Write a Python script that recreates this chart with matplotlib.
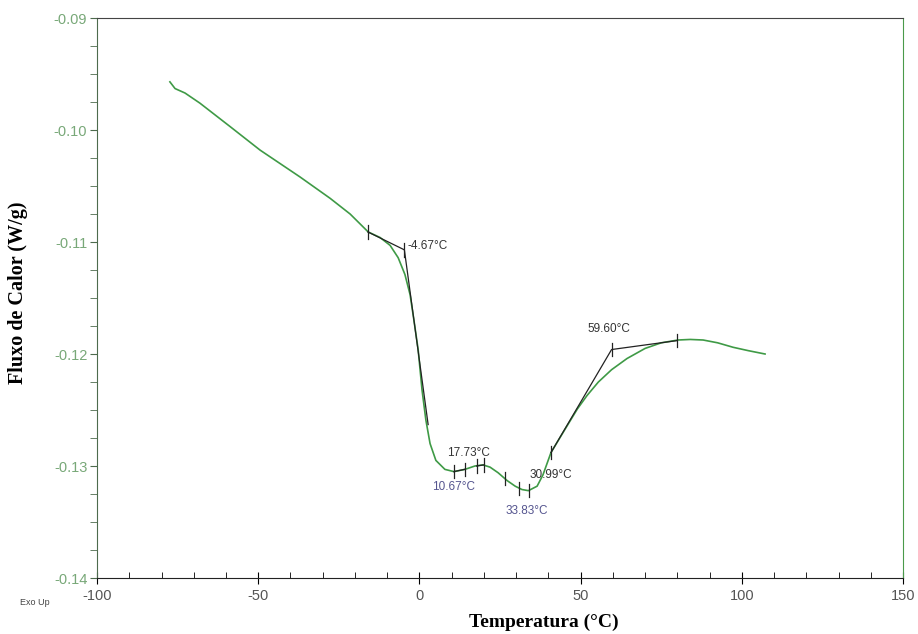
import numpy as np
import matplotlib.pyplot as plt
from matplotlib.ticker import MultipleLocator

plt.rcParams['axes.unicode_minus'] = False

# curva DSC
temp = [-77.4, -75.8, -72.7, -68.1, -58.7, -49.4, -37.0, -27.7, -21.5, -15.9,
        -12.2, -9.1, -6.6, -4.5, -2.9, -1.7, -0.4, 0.8, 2.0, 3.3,
        5.1, 7.9, 10.7, 14.1, 17.2, 19.7, 21.9, 24.4, 27.2, 29.7,
        31.8, 33.8, 36.5, 38.3, 40.8, 45.2, 49.0, 52.0, 55.5, 59.6,
        64.4, 70.0, 75.0, 80.2, 84.0, 88.0, 92.5, 97.3, 102.0, 107.2]
fluxo = [-0.0957, -0.0963, -0.0967, -0.0976, -0.0997, -0.1018, -0.1042, -0.1061, -0.1075, -0.1091,
         -0.1096, -0.1103, -0.1114, -0.1129, -0.1147, -0.1170, -0.1196, -0.1232, -0.1259, -0.1280,
         -0.1295, -0.1303, -0.1305, -0.1303, -0.1300, -0.1299, -0.1301, -0.1306, -0.1313, -0.1318,
         -0.1321, -0.1322, -0.1318, -0.1308, -0.1288, -0.1267, -0.1249, -0.1237, -0.1225, -0.1214,
         -0.1204, -0.1195, -0.1190, -0.11875, -0.1187, -0.11875, -0.1190, -0.1194, -0.1197, -0.1200]

# linhas tangentes (pretas)
tang1_x = [-16.0, -4.67, 2.7]
tang1_y = [-0.1091, -0.1107, -0.1263]
tang2_x = [40.8, 59.6, 80.0]
tang2_y = [-0.1288, -0.1196, -0.1188]

# marcas verticais
marca_x = [-16.0, -4.67, 10.67, 14.0, 17.73, 20.0, 26.5, 30.99, 33.83, 40.8, 59.6, 80.0]
marca_y = [-0.1091, -0.1107, -0.1305, -0.1303, -0.1300, -0.1299, -0.1311, -0.1320, -0.1322, -0.1288, -0.1196, -0.1188]

# rótulos
rot_txt = ['-4.67°C', '17.73°C', '30.99°C', '10.67°C', '33.83°C', '59.60°C']
rot_x = [-3.85, 8.6, 34.3, 3.9, 26.6, 52.0]
rot_y = [-0.1104, -0.1288, -0.1308, -0.1319, -0.1340, -0.1178]
rot_cor = ['#333333', '#333333', '#333333', '#55558f', '#55558f', '#333333']

fig = plt.figure(figsize=(9.18, 6.34), dpi=100)
ax = fig.add_axes([0.1057, 0.0883, 0.878, 0.8833])

ax.plot(temp, fluxo, color='#3f9a46', lw=1.2)
ax.plot(tang1_x, tang1_y, color='#222222', lw=0.9)
ax.plot(tang2_x, tang2_y, color='#222222', lw=0.9)
ax.plot([10.67, 14.0], [-0.1305, -0.1303], color='#222222', lw=0.9)
ax.plot([17.73, 20.0], [-0.1300, -0.1299], color='#222222', lw=0.9)
for mx, my in zip(marca_x, marca_y):
    ax.plot([mx, mx], [my - 0.0006, my + 0.0006], color='#222222', lw=0.9)
for t, x, y, c in zip(rot_txt, rot_x, rot_y, rot_cor):
    ax.text(x, y, t, color=c, fontsize=8.5, family='Liberation Sans', va='center')

ax.set_xlim(-100, 150)
ax.set_ylim(-0.14, -0.09)
ax.xaxis.set_major_locator(MultipleLocator(50))
ax.xaxis.set_minor_locator(MultipleLocator(10))
ax.yaxis.set_major_locator(MultipleLocator(0.01))
ax.yaxis.set_minor_locator(MultipleLocator(0.0025))
ax.set_yticklabels([f'{v:.2f}' for v in ax.get_yticks()])

ax.tick_params(axis='x', which='major', direction='inout', length=8, labelsize=10.5,
               labelcolor='#555555', pad=4)
ax.tick_params(axis='x', which='minor', direction='in', length=4)
ax.tick_params(axis='y', which='both', direction='out', length=5, color='#4d6b4d',
               labelsize=10.5, labelcolor='#78a878', pad=2)
for lab in ax.get_xticklabels() + ax.get_yticklabels():
    lab.set_family('Liberation Sans')

ax.spines['left'].set_color('#4d6b4d')
ax.spines['top'].set_color('#444444')
ax.spines['right'].set_color('#4a9a4a')
ax.spines['bottom'].set_color('#222222')

fig.text(0.5926, 0.019, 'Temperatura (°C)', family='Liberation Serif', fontweight='bold',
         fontsize=14, ha='center', va='center')
fig.text(0.0196, 0.539, 'Fluxo de Calor (W/g)', family='Liberation Serif', fontweight='bold',
         fontsize=14.5, ha='center', va='center', rotation=90)
fig.text(0.022, 0.045, 'Exo Up', fontsize=6.5, color='#444444', family='Liberation Sans')

fig.savefig('out.png', dpi=100)
